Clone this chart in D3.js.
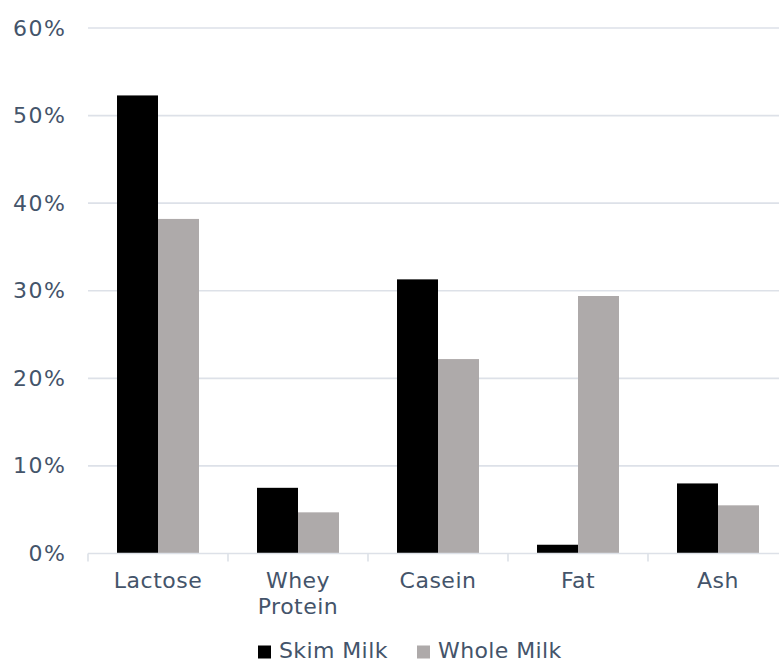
<!DOCTYPE html>
<html>
<head>
<meta charset="utf-8">
<script src="https://cdn.jsdelivr.net/npm/d3@7/dist/d3.min.js"></script>
<style>
  html, body { margin: 0; padding: 0; background: #ffffff; }
  svg { display: block; }
  text { font-family: "DejaVu Sans", Verdana, sans-serif; fill: #44546a; }
</style>
</head>
<body>
<svg id="chart" width="779" height="664"></svg>
<script>
// Milk solids composition, share of total solids
const categories = ["Lactose", "Whey Protein", "Casein", "Fat", "Ash"];
const seriesNames = ["Skim Milk", "Whole Milk"];
const skimMilk = [0.523, 0.075, 0.313, 0.010, 0.080];
const wholeMilk = [0.382, 0.047, 0.222, 0.294, 0.055];
const seriesColors = ["#000000", "#aeaaaa"];
const yTicks = [0, 0.1, 0.2, 0.3, 0.4, 0.5, 0.6];

const seriesValues = [skimMilk, wholeMilk];
const rows = categories.map((c, i) => ({
  category: c,
  values: seriesNames.map((s, j) => ({ series: s, value: seriesValues[j][i], color: seriesColors[j] }))
}));

const svg = d3.select("#chart");
const W = 779;

const x = d3.scaleBand().domain(categories).range([88, 788]).padding(0);
const x1 = d3.scaleBand().domain(seriesNames).range([29, 111]).padding(0);
const y = d3.scaleLinear().domain([0, 0.6]).range([553.5, 28]);

// horizontal gridlines
svg.append("g")
  .selectAll("line")
  .data(yTicks.filter(t => t > 0))
  .join("line")
  .attr("x1", 88).attr("x2", W)
  .attr("y1", d => y(d)).attr("y2", d => y(d))
  .attr("stroke", "#dde1e8").attr("stroke-width", 1.6);

// y axis labels
const yAxis = d3.axisLeft(y)
  .tickValues(yTicks)
  .tickFormat(d3.format(".0%"))
  .tickSize(0)
  .tickPadding(0);
const gy = svg.append("g").attr("transform", "translate(65,0)").call(yAxis);
gy.select(".domain").remove();
gy.selectAll("text")
  .style("font-family", "'DejaVu Sans', Verdana, sans-serif")
  .style("font-size", "22px")
  .style("letter-spacing", "1.6px")
  .attr("dx", "1.6px")
  .attr("fill", "#44546a");

// bars
const groups = svg.append("g")
  .selectAll("g")
  .data(rows)
  .join("g")
  .attr("transform", d => `translate(${x(d.category)},0)`);

groups.selectAll("rect")
  .data(d => d.values)
  .join("rect")
  .attr("x", d => x1(d.series))
  .attr("width", x1.bandwidth())
  .attr("y", d => y(d.value))
  .attr("height", d => y(0) - y(d.value))
  .attr("fill", d => d.color);

// category axis: baseline, boundary ticks, labels
const gx = svg.append("g");
gx.append("line")
  .attr("x1", 88).attr("x2", W)
  .attr("y1", y(0)).attr("y2", y(0))
  .attr("stroke", "#dde1e8").attr("stroke-width", 1.6);

const boundaries = categories.map(c => x(c)).concat([x(categories[categories.length - 1]) + x.bandwidth()]);
gx.selectAll("line.tick")
  .data(boundaries)
  .join("line")
  .attr("class", "tick")
  .attr("x1", d => d).attr("x2", d => d)
  .attr("y1", y(0)).attr("y2", y(0) + 8)
  .attr("stroke", "#dde1e8").attr("stroke-width", 1.6);

const labels = gx.selectAll("text.cat")
  .data(categories)
  .join("text")
  .attr("class", "cat")
  .attr("text-anchor", "middle")
  .attr("font-size", "22px")
  .style("letter-spacing", "0.5px")
  .attr("transform", d => `translate(${x(d) + x.bandwidth() / 2},588)`);

labels.each(function (d) {
  const words = d.split(" ");
  const t = d3.select(this);
  words.forEach((w, i) => {
    t.append("tspan").attr("x", 0).attr("y", i * 25.5).text(w);
  });
});

// legend
const legend = svg.append("g");
const items = legend.selectAll("g")
  .data(seriesNames.map((s, i) => ({ name: s, color: seriesColors[i] })))
  .join("g");

items.append("rect")
  .attr("width", 13).attr("height", 13)
  .attr("y", 645.5)
  .attr("fill", d => d.color);

items.append("text")
  .attr("x", 21)
  .attr("y", 658)
  .attr("font-size", "22px")
  .style("letter-spacing", "0.4px")
  .text(d => d.name);

const starts = [258, 417];
items.attr("transform", (d, i) => `translate(${starts[i]},0)`);
</script>
</body>
</html>
